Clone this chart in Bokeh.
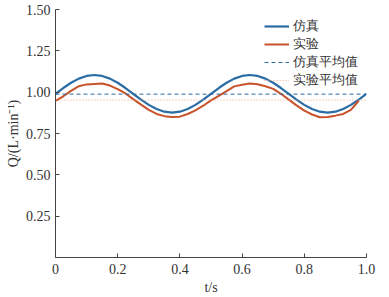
from bokeh.plotting import figure
from bokeh.models import FixedTicker, CustomJSTickFormatter, Legend, LegendItem, Range1d
from bokeh.embed import file_html
from bokeh.resources import INLINE

# time axis (s)
t = [round(0.025 * k, 3) for k in range(41)]
# simulated flow (L/min)
sim = [0.990, 1.025, 1.057, 1.082, 1.098, 1.104, 1.098, 1.082, 1.057, 1.025,
       0.990, 0.955, 0.923, 0.898, 0.882, 0.876, 0.882, 0.898, 0.923, 0.955,
       0.990, 1.025, 1.057, 1.082, 1.098, 1.104, 1.098, 1.082, 1.057, 1.025,
       0.990, 0.955, 0.923, 0.898, 0.882, 0.876, 0.882, 0.898, 0.923, 0.955,
       0.990]
# experimental flow (L/min)
t_exp = t[:40]
exp = [0.948, 0.975, 1.008, 1.036, 1.047, 1.050, 1.052, 1.040, 1.018, 0.992,
       0.958, 0.925, 0.893, 0.868, 0.855, 0.850, 0.852, 0.868, 0.890, 0.918,
       0.950, 0.978, 1.006, 1.035, 1.045, 1.052, 1.048, 1.036, 1.020, 0.990,
       0.955, 0.920, 0.888, 0.865, 0.848, 0.850, 0.858, 0.868, 0.893, 0.948]
sim_mean = 0.988
exp_mean = 0.952

x_ticks = [0, 0.2, 0.4, 0.6, 0.8, 1.0]
y_ticks = [0.25, 0.5, 0.75, 1.0, 1.25, 1.5]

blue = "#2a6ca4"
orange = "#c8532b"

p = figure(width=389, height=297, output_backend="svg", toolbar_location=None,
           x_range=Range1d(0, 1.0), y_range=Range1d(0, 1.5),
           min_border_left=55, min_border_right=23, min_border_top=9, min_border_bottom=39)
p.outline_line_color = None
p.grid.visible = False
p.background_fill_color = "white"
p.border_fill_color = "white"

r1 = p.line(t, sim, line_color=blue, line_width=2.2)
r2 = p.line(t_exp, exp, line_color=orange, line_width=2.0)
r3 = p.line([0, 1.0], [sim_mean, sim_mean], line_color=blue, line_width=1.0, line_dash="4 3")
r4 = p.line([0, 1.0], [exp_mean, exp_mean], line_color="#eba585", line_width=1.0, line_dash="1 2")

tick_font = "Liberation Serif"
for ax in (p.xaxis[0], p.yaxis[0]):
    ax.major_tick_in = 4
    ax.major_tick_out = 0
    ax.minor_tick_line_color = None
    ax.axis_line_color = "#444444"
    ax.major_tick_line_color = "#444444"
    ax.major_label_text_font = tick_font
    ax.major_label_text_font_size = "14px"
    ax.major_label_text_color = "#333333"
    ax.axis_label_text_font = tick_font
    ax.axis_label_text_font_size = "14px"
    ax.axis_label_text_font_style = "normal"
    ax.axis_label_text_color = "#333333"

p.xaxis.ticker = FixedTicker(ticks=x_ticks)
p.yaxis.ticker = FixedTicker(ticks=y_ticks)
p.xaxis.formatter = CustomJSTickFormatter(code="return tick == 0 ? '0' : tick.toFixed(1);")
p.yaxis.formatter = CustomJSTickFormatter(code="return tick.toFixed(2);")
p.xaxis.axis_label = "t/s"
p.yaxis.axis_label = "Q/(L·min⁻¹)"
p.xaxis.major_label_standoff = 6
p.yaxis.major_label_standoff = 5
p.xaxis.axis_label_standoff = 3
p.yaxis.axis_label_standoff = 2

legend = Legend(items=[
    LegendItem(label="仿真", renderers=[r1]),
    LegendItem(label="实验", renderers=[r2]),
    LegendItem(label="仿真平均值", renderers=[r3]),
    LegendItem(label="实验平均值", renderers=[r4]),
], location="top_right")
legend.border_line_color = None
legend.background_fill_alpha = 0
legend.label_text_font = "Liberation Serif"
legend.label_text_font_size = "13px"
legend.label_text_line_height = 1.0
legend.label_text_color = "#333333"
legend.glyph_width = 25
legend.glyph_height = 12
legend.label_height = 12
legend.spacing = 0
legend.padding = 4
legend.margin = 8
legend.label_standoff = 4
p.add_layout(legend)

open("out.html", "w").write(file_html(p, INLINE))
